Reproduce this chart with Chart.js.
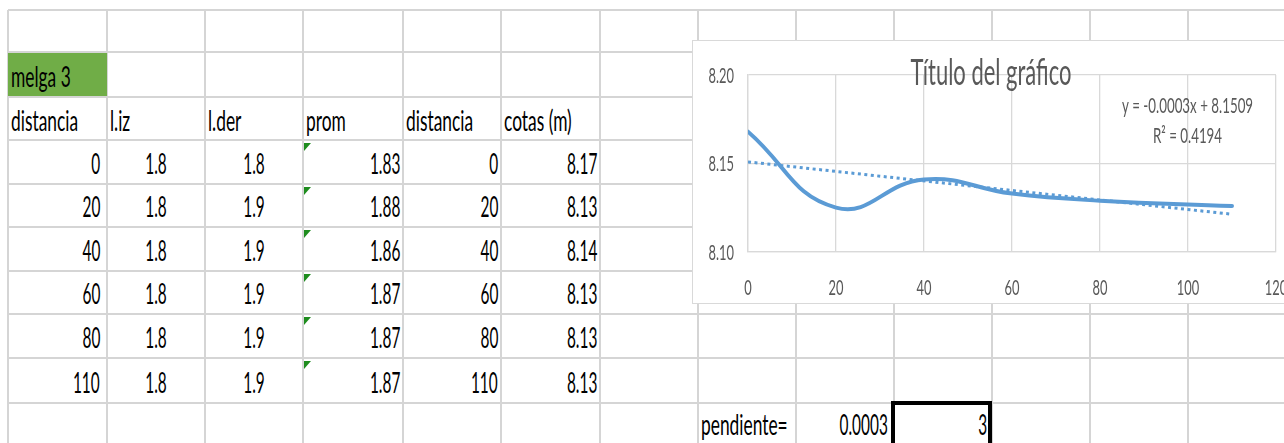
<!DOCTYPE html>
<html>
<head>
<meta charset="utf-8">
<script src="https://cdn.jsdelivr.net/npm/chart.js@4.4.1/dist/chart.umd.min.js"></script>
<style>
  html, body { margin: 0; padding: 0; background: #fff; }
  body { width: 1284px; height: 443px; position: relative; overflow: hidden; font-family: Lato, "Open Sans", sans-serif; }
  .ln { position: absolute; background: #D5D5D5; }
  .tx { position: absolute; white-space: nowrap; font-size: 28px; line-height: 1; color: #000; }
  .tx i { display: inline-block; width: 0; height: 0; vertical-align: baseline; }
  .fill { position: absolute; background: #70AD47; }
  .flag { position: absolute; width: 7px; height: 8px; background: #1E8C1E; clip-path: polygon(0 0, 100% 0, 0 100%); }
  .sel { position: absolute; border: 4px solid #000; box-sizing: border-box; }
  #chartBox { position: absolute; left: 692px; top: 40px; width: 600px; height: 264px; border: 1px solid #D9D9D9; box-sizing: border-box; background: #fff; }
  #chartBox canvas { position: absolute; left: 0; top: 0; }
</style>
</head>
<body>
<div id="sheet"></div>
<div id="chartBox"><canvas id="chart" width="598" height="262"></canvas></div>
<script>
// ---- worksheet contents ----
const blockTitle = 'melga 3';
const headers = ['distancia', 'l.iz', 'l.der', 'prom', 'distancia', 'cotas (m)'];
const distancia = ['0', '20', '40', '60', '80', '110'];
const lIz = ['1.8', '1.8', '1.8', '1.8', '1.8', '1.8'];
const lDer = ['1.8', '1.9', '1.9', '1.9', '1.9', '1.9'];
const prom = ['1.83', '1.88', '1.86', '1.87', '1.87', '1.87'];
const cotas = ['8.17', '8.13', '8.14', '8.13', '8.13', '8.13'];
const slopeCaption = 'pendiente=';
const slopeValue = '0.0003';
const slopeFactor = '3';

// ---- chart series (unrounded elevations) ----
const chartDist = [0, 20, 40, 60, 80, 110];
const chartCota = [8.1680, 8.1251, 8.1410, 8.1330, 8.1290, 8.1260];
const xTicks = [0, 20, 40, 60, 80, 100, 120];
const xTickLabels = ['0', '20', '40', '60', '80', '100', '120'];
const yTicks = [8.10, 8.15, 8.20];
const yTickLabels = ['8.10', '8.15', '8.20'];
const chartTitle = 'Título del gráfico';
const trendLabel = ['y = -0.0003x + 8.1509', 'R² = 0.4194'];

// ---- grid geometry of the sheet ----
const colX = [8, 107, 205, 303, 403, 501, 600, 698, 796, 894, 992, 1090, 1188];
const rowY = [10, 52, 97, 140, 184, 227, 271, 314, 358, 403];
const PAGE_W = 1284, PAGE_H = 443;
// narrow cell font: words and figures get slightly different squeeze
const WORD_SX = 0.62, FIGURE_SX = 0.55;

const sheet = document.getElementById('sheet');

function line(x, y, w, h) {
  const d = document.createElement('div');
  d.className = 'ln';
  Object.assign(d.style, { left: x + 'px', top: y + 'px', width: w + 'px', height: h + 'px' });
  sheet.appendChild(d);
}
rowY.forEach(y => line(colX[0], y - 1, PAGE_W - colX[0], 2));
colX.forEach(x => line(x - 1, rowY[0], 2, PAGE_H - rowY[0]));

// green header cell
const g = document.createElement('div');
g.className = 'fill';
Object.assign(g.style, { left: '8px', top: '53px', width: '99px', height: '43px' });
sheet.appendChild(g);

// text placed by its baseline; align = left | right | center
function text(str, x, baseline, align) {
  const sx = /[a-z]/i.test(str) ? WORD_SX : FIGURE_SX;
  const w = document.createElement('div');
  w.className = 'tx';
  w.appendChild(document.createTextNode(str));
  const mark = document.createElement('i');
  w.appendChild(mark);
  if (align === 'right') {
    w.style.right = (PAGE_W - x) + 'px';
    w.style.transformOrigin = 'right';
    w.style.transform = 'scaleX(' + sx + ')';
  } else if (align === 'center') {
    w.style.left = x + 'px';
    w.style.transformOrigin = 'center';
    w.style.transform = 'translateX(-50%) scaleX(' + sx + ')';
  } else {
    w.style.left = x + 'px';
    w.style.transformOrigin = 'left';
    w.style.transform = 'scaleX(' + sx + ')';
  }
  w.style.top = '0px';
  sheet.appendChild(w);
  const b = mark.getBoundingClientRect().top;
  w.style.top = (baseline - b) + 'px';
}

text(blockTitle, 11, 87, 'left');
const headerLeft = [11, 110, 208, 306, 406, 504];
headers.forEach((h, i) => text(h, headerLeft[i], 131, 'left'));

distancia.forEach((v, r) => {
  const base = rowY[4 + r] - 10;
  text(v, 100, base, 'right');
  text(lIz[r], 156, base, 'center');
  text(lDer[r], 254, base, 'center');
  text(prom[r], 400, base, 'right');
  text(distancia[r], 498, base, 'right');
  text(cotas[r], 597, base, 'right');
  const f = document.createElement('div');
  f.className = 'flag';
  Object.assign(f.style, { left: '304px', top: (rowY[3 + r] + 3) + 'px' });
  sheet.appendChild(f);
});

const selBox = document.createElement('div');
selBox.className = 'sel';
Object.assign(selBox.style, { left: '891px', top: '401px', width: '101px', height: '60px' });
sheet.appendChild(selBox);

text(slopeCaption, 701, 435, 'left');
text(slopeValue, 888, 435, 'right');
text(slopeFactor, 987, 435, 'right');

// ---- least-squares trendline ----
function linearFit(xs, ys) {
  const n = xs.length;
  const mx = xs.reduce((a, b) => a + b, 0) / n;
  const my = ys.reduce((a, b) => a + b, 0) / n;
  let sxy = 0, sxx = 0;
  for (let i = 0; i < n; i++) {
    sxy += (xs[i] - mx) * (ys[i] - my);
    sxx += (xs[i] - mx) * (xs[i] - mx);
  }
  const slope = sxy / sxx;
  return { slope, intercept: my - slope * mx };
}
const fit = linearFit(chartDist, chartCota);
const xFirst = chartDist[0], xLast = chartDist[chartDist.length - 1];
const trendPoints = [
  { x: xFirst, y: fit.intercept + fit.slope * xFirst },
  { x: xLast, y: fit.intercept + fit.slope * xLast }
];
const seriesPoints = chartDist.map((x, i) => ({ x, y: chartCota[i] }));

// ---- narrow text drawn on the chart canvas ----
const LABEL_COLOR = '#595959';
function narrowText(ctx, str, x, y, align, size, sx) {
  ctx.save();
  ctx.font = size + 'px Lato, "Open Sans", sans-serif';
  ctx.fillStyle = LABEL_COLOR;
  ctx.textBaseline = 'alphabetic';
  ctx.textAlign = align;
  ctx.translate(x, y);
  ctx.scale(sx, 1);
  ctx.fillText(str, 0, 0);
  ctx.restore();
}

const chartText = {
  id: 'chartText',
  afterDraw(chart) {
    const ctx = chart.ctx;
    const area = chart.chartArea;
    const sx = chart.scales.x, sy = chart.scales.y;
    yTicks.forEach((v, i) => narrowText(ctx, yTickLabels[i], area.left - 14, sy.getPixelForValue(v) + 7.5, 'right', 21.5, 0.6));
    xTicks.forEach((v, i) => narrowText(ctx, xTickLabels[i], sx.getPixelForValue(v), area.bottom + 43, 'center', 21.5, 0.6));
    narrowText(ctx, chartTitle, chart.width / 2 - 1, 44, 'center', 36, 0.61);
    narrowText(ctx, trendLabel[0], 494.5, 72, 'center', 21.5, 0.62);
    narrowText(ctx, trendLabel[1], 494.5, 102, 'center', 21.5, 0.62);
  }
};

const GRID = '#D9D9D9';
const BLUE = '#5B9BD5';
new Chart(document.getElementById('chart'), {
  type: 'line',
  data: {
    datasets: [
      {
        label: 'Lineal (cotas (m))',
        data: trendPoints,
        borderColor: BLUE,
        borderWidth: 3,
        borderDash: [3, 3.5],
        pointRadius: 0,
        tension: 0,
        fill: false,
        order: 0
      },
      {
        label: 'cotas (m)',
        data: seriesPoints,
        borderColor: BLUE,
        borderWidth: 4,
        pointRadius: 0,
        tension: 0.45,
        cubicInterpolationMode: 'default',
        borderCapStyle: 'round',
        borderJoinStyle: 'round',
        fill: false,
        order: 1
      }
    ]
  },
  options: {
    responsive: false,
    animation: false,
    events: [],
    layout: { padding: { left: 55, top: 34, right: 15, bottom: 51 } },
    plugins: { legend: { display: false }, tooltip: { enabled: false }, title: { display: false } },
    scales: {
      x: {
        type: 'linear', min: 0, max: 120,
        ticks: { stepSize: 20, display: false },
        grid: { color: GRID, lineWidth: 1.3, drawTicks: false },
        border: { color: GRID, width: 1.3 }
      },
      y: {
        type: 'linear', min: 8.10, max: 8.20,
        ticks: { stepSize: 0.05, display: false },
        grid: { color: GRID, lineWidth: 1.3, drawTicks: false },
        border: { color: GRID, width: 1.3 }
      }
    }
  },
  plugins: [chartText]
});
</script>
</body>
</html>
